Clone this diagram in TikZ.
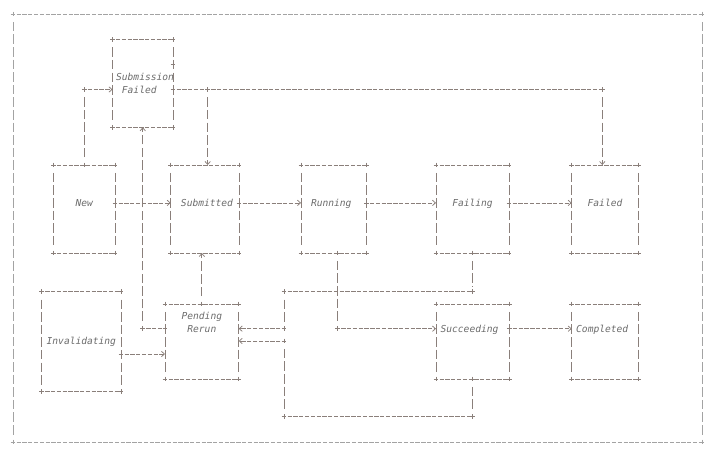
\documentclass[tikz,border=0pt]{standalone}
\usepackage{fontspec}
\setmonofont{DejaVu Sans Mono}
\usetikzlibrary{arrows.meta}
\definecolor{lc}{HTML}{8A7F7A}
\definecolor{framec}{HTML}{A3A3A3}
\definecolor{tc}{HTML}{6B6B6B}
\newcommand\stl[3]{\makebox[0pt]{\hspace*{#1}\raisebox{#2}[0pt][0pt]{#3}}}
\newcommand\twol[3]{\begin{tabular}[b]{@{}#1@{}}#2\\#3\end{tabular}}
\newcommand\abox[1]{%
  \draw[hl] (#1.north west) -- (#1.north east) (#1.south west) -- (#1.south east);
  \draw[vl] (#1.north west) -- (#1.south west);
  \draw[vl] (#1.north east) -- (#1.south east);
  \pic at (#1.north west) {pls}; \pic at (#1.north east) {pls};
  \pic at (#1.south west) {pls}; \pic at (#1.south east) {pls};}
\begin{document}
\begin{tikzpicture}[x=1pt,y=-1pt,
  arr/.style={-{Straight Barb[length=3pt,width=5.4pt]}},
  hl/.style={draw=lc,line width=0.75pt,dash pattern=on 4.3pt off 1.48pt,dash phase=2.15pt},
  vl/.style={draw=lc,line width=0.75pt,dash pattern=on 9.5pt off 3.1pt,dash phase=9.75pt,shorten <=5pt,shorten >=5pt},
  vla/.style={draw=lc,line width=0.75pt,dash pattern=on 9.5pt off 3.1pt,dash phase=9.75pt,shorten <=5pt,arr},
  pls/.pic={\draw[lc,line width=0.75pt] (-2.4,0)--(2.4,0) (0,-2.4)--(0,2.4);},
  plsf/.pic={\draw[framec,line width=0.75pt] (-2.4,0)--(2.4,0) (0,-2.4)--(0,2.4);},
  st/.style={rectangle,inner sep=0pt,outer sep=0pt,text=tc,
    font=\fontsize{9.6pt}{12.6pt}\selectfont\ttfamily\itshape},
]
\useasboundingbox (0,0) rectangle (712,455);

% outer frame
\coordinate (F1) at (13,14);
\coordinate (F2) at (702,14);
\coordinate (F3) at (702,442);
\coordinate (F4) at (13,442);
\draw[hl,draw=framec] (F1) -- (F2) (F4) -- (F3);
\draw[vl,draw=framec] (F1) -- (F4);
\draw[vl,draw=framec] (F2) -- (F3);
\pic at (F1) {plsf}; \pic at (F2) {plsf}; \pic at (F3) {plsf}; \pic at (F4) {plsf};

% states
\node[st,minimum width=60.5pt,minimum height=87.8pt] (sf) at (142.75,83.4)
  {\stl{4.6pt}{-9.6pt}{\twol{l}{Submission}{\ Failed}}};
\node[st,minimum width=61.5pt,minimum height=88pt] (new) at (84.25,209) {\stl{0pt}{2.6pt}{New}};
\node[st,minimum width=68.3pt,minimum height=88pt] (sub) at (204.85,209) {\stl{4.3pt}{2.6pt}{Submitted}};
\node[st,minimum width=65.5pt,minimum height=88pt] (run) at (333.75,209) {\stl{-5pt}{2.6pt}{Running}};
\node[st,minimum width=73pt,minimum height=88pt] (fing) at (472.5,209) {\stl{0pt}{2.6pt}{Failing}};
\node[st,minimum width=66.6pt,minimum height=88pt] (fed) at (605,209) {\stl{0pt}{2.6pt}{Failed}};
\node[st,minimum width=79.3pt,minimum height=100pt] (inv) at (81.35,341.7) {\stl{0pt}{-2.8pt}{Invalidating}};
\node[st,minimum width=73.7pt,minimum height=75pt] (pr) at (201.85,341.5)
  {\stl{0pt}{9.3pt}{\twol{c}{Pending}{Rerun}}};
\node[st,minimum width=73.3pt,minimum height=75pt] (succ) at (472.65,341.5) {\stl{-6.3pt}{9.3pt}{Succeeding}};
\node[st,minimum width=66.6pt,minimum height=75pt] (comp) at (605,341.5) {\stl{-5.6pt}{9.3pt}{Completed}};

\abox{sf}\abox{new}\abox{sub}\abox{run}\abox{fing}\abox{fed}
\abox{inv}\abox{pr}\abox{succ}\abox{comp}
\pic at ([yshift=19pt]sf.east) {pls};

% New -> Submission Failed
\coordinate (sfL) at ([yshift=-6.1pt]sf.west);
\coordinate (sfR) at ([yshift=-6.1pt]sf.east);
\coordinate (k1) at (new.north |- sfL);
\draw[vl] (new.north) -- (k1);
\draw[hl,arr] (k1) -- (sfL);
\pic at (new.north) {pls}; \pic at (k1) {pls};

% Submission Failed -> Submitted, Failed
\coordinate (subT) at ([xshift=2.85pt]sub.north);
\coordinate (fedT) at ([xshift=-2.7pt]fed.north);
\coordinate (k2) at (subT |- sfR);
\coordinate (k3) at (fedT |- sfR);
\draw[hl] (sfR) -- (k3);
\draw[vla] (k2) -- (subT);
\draw[vla] (k3) -- (fedT);
\pic at (sfR) {pls}; \pic at (k2) {pls}; \pic at (k3) {pls};

% main row
\coordinate (newR) at ([yshift=6.1pt]new.east);
\coordinate (subR) at ([yshift=6.1pt]sub.east);
\coordinate (runR) at ([yshift=6.1pt]run.east);
\coordinate (fingR) at ([yshift=6.1pt]fing.east);
\draw[hl,arr] (newR) -- (newR -| sub.west);
\draw[hl,arr] (subR) -- (subR -| run.west);
\draw[hl,arr] (runR) -- (runR -| fing.west);
\draw[hl,arr] (fingR) -- (fingR -| fed.west);
\pic at (newR) {pls}; \pic at (subR) {pls}; \pic at (runR) {pls}; \pic at (fingR) {pls};

% Running -> Succeeding
\coordinate (runB) at ([xshift=3.95pt]run.south);
\coordinate (succL) at ([yshift=12.8pt]succ.west);
\coordinate (k4) at (runB |- succL);
\draw[vl] (runB) -- (k4);
\draw[hl,arr] (k4) -- (succL);
\pic at (runB) {pls}; \pic at (k4) {pls};

% Succeeding -> Completed
\coordinate (succR) at ([yshift=12.8pt]succ.east);
\draw[hl,arr] (succR) -- (succR -| comp.west);
\pic at (succR) {pls};

% Failing -> Pending Rerun
\coordinate (busT) at (284,291.7);
\coordinate (busB) at (284,416.7);
\coordinate (k5) at (fing.south |- busT);
\coordinate (prR1) at ([yshift=12.8pt]pr.east);
\coordinate (k6) at (busT |- prR1);
\draw[vl] (fing.south) -- (k5);
\draw[hl] (busT) -- (k5);
\draw[vl] (busT) -- (k6);
\draw[hl,arr] (k6) -- (prR1);
\pic at (fing.south) {pls}; \pic at (k5) {pls}; \pic at (busT) {pls}; \pic at (k6) {pls};

% Succeeding -> Pending Rerun
\coordinate (k7) at (succ.south |- busB);
\coordinate (prR2) at ([yshift=0.5pt]pr.east);
\coordinate (k8) at (busB |- prR2);
\draw[vl] (succ.south) -- (k7);
\draw[hl] (busB) -- (k7);
\draw[vl] (k8) -- (busB);
\draw[hl,arr] (k8) -- (prR2);
\pic at (succ.south) {pls}; \pic at (k7) {pls}; \pic at (busB) {pls}; \pic at (k8) {pls};

% Invalidating -> Pending Rerun
\coordinate (invR) at ([yshift=-12.3pt]inv.east);
\draw[hl,arr] (invR) -- (invR -| pr.west);
\pic at (invR) {pls};

% Pending Rerun -> Submission Failed
\coordinate (prL) at ([yshift=12.8pt]pr.west);
\coordinate (k9) at (sf.south |- prL);
\draw[hl] (k9) -- (prL);
\draw[vla] (k9) -- (sf.south);
\pic at (prL) {pls}; \pic at (k9) {pls};

% Pending Rerun -> Submitted
\draw[vla] (pr.north) -- (pr.north |- sub.south);
\pic at (pr.north) {pls};
\end{tikzpicture}
\end{document}
